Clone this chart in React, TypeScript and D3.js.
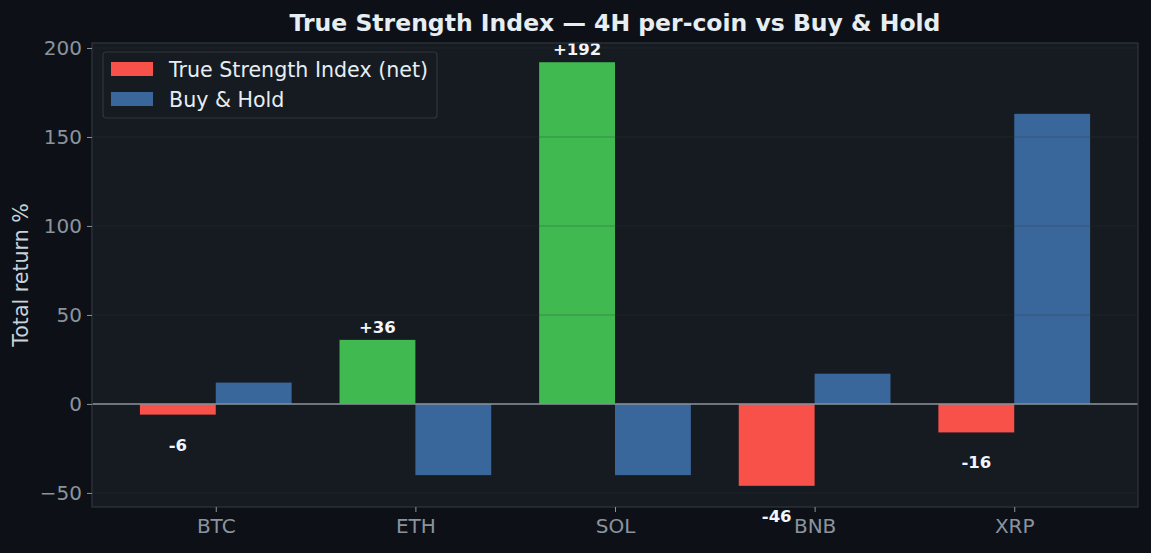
import { useEffect, useRef } from "react";
import * as d3 from "d3";

const coins = ["BTC", "ETH", "SOL", "BNB", "XRP"];
const tsiReturns = [-6, 36, 192, -46, -16];
const holdReturns = [12, -40, -40, 17, 163];
const yTicks = [-50, 0, 50, 100, 150, 200];

const W = 1151;
const H = 553;
const FONT = "DejaVu Sans, sans-serif";

export default function App() {
  const svgRef = useRef<SVGSVGElement>(null);

  useEffect(() => {
    document.body.style.margin = "0";
    document.body.style.background = "#0d1117";
    if (!svgRef.current) return;
    const svg = d3.select(svgRef.current);
    svg.selectAll("*").remove();

    const margin = { top: 43, right: 13, bottom: 46, left: 92 };
    const innerWidth = W - margin.left - margin.right;
    const innerHeight = H - margin.top - margin.bottom;

    const xScale = d3.scaleLinear().domain([-0.62, 4.62]).range([0, innerWidth]);
    const yScale = d3.scaleLinear().domain([-57.9, 202.8]).range([innerHeight, 0]);
    const barW = xScale(0.38) - xScale(0);

    svg.append("rect").attr("width", W).attr("height", H).attr("fill", "#0d1117");

    svg
      .append("text")
      .attr("x", margin.left + innerWidth / 2)
      .attr("y", 31)
      .attr("text-anchor", "middle")
      .attr("fill", "#e6edf3")
      .attr("font-family", FONT)
      .attr("font-size", 23.5)
      .attr("font-weight", "bold")
      .text("True Strength Index — 4H per-coin vs Buy & Hold");

    const g = svg.append("g").attr("transform", `translate(${margin.left},${margin.top})`);

    g.append("rect")
      .attr("width", innerWidth)
      .attr("height", innerHeight)
      .attr("fill", "#161b22");

    // Bars
    coins.forEach((c, i) => {
      const v = tsiReturns[i];
      g.append("rect")
        .attr("x", xScale(i) - barW)
        .attr("y", yScale(Math.max(0, v)))
        .attr("width", barW)
        .attr("height", Math.abs(yScale(v) - yScale(0)))
        .attr("fill", v >= 0 ? "#3fb950" : "#f85149");
      const h = holdReturns[i];
      g.append("rect")
        .attr("x", xScale(i))
        .attr("y", yScale(Math.max(0, h)))
        .attr("width", barW)
        .attr("height", Math.abs(yScale(h) - yScale(0)))
        .attr("fill", "#3a679b");
    });

    // Grid on top of bars
    yTicks.forEach((t) => {
      g.append("line")
        .attr("x1", 0)
        .attr("x2", innerWidth)
        .attr("y1", yScale(t))
        .attr("y2", yScale(t))
        .attr("stroke", "#30363d")
        .attr("stroke-opacity", 0.35)
        .attr("stroke-width", 1);
    });

    // Zero line
    g.append("line")
      .attr("x1", 0)
      .attr("x2", innerWidth)
      .attr("y1", yScale(0))
      .attr("y2", yScale(0))
      .attr("stroke", "#8b949e")
      .attr("stroke-width", 1.6);

    // Value labels
    coins.forEach((c, i) => {
      const v = tsiReturns[i];
      g.append("text")
        .attr("x", xScale(i) - barW / 2)
        .attr("y", v >= 0 ? yScale(v) - 7 : yScale(v) + 36)
        .attr("text-anchor", "middle")
        .attr("fill", "#f0f6fc")
        .attr("font-family", FONT)
        .attr("font-size", 16.5)
        .attr("font-weight", "bold")
        .text(v >= 0 ? `+${v}` : `${v}`);
    });

    // Frame
    g.append("rect")
      .attr("width", innerWidth)
      .attr("height", innerHeight)
      .attr("fill", "none")
      .attr("stroke", "#30363d")
      .attr("stroke-width", 1.2);

    // Y axis
    g.append("g")
      .call(d3.axisLeft(yScale).tickValues(yTicks).tickSize(5).tickPadding(5))
      .call((s) => s.select(".domain").remove())
      .call((s) => s.selectAll(".tick line").attr("stroke", "#8b949e"))
      .call((s) =>
        s
          .selectAll(".tick text")
          .attr("fill", "#8b949e")
          .attr("font-family", FONT)
          .attr("font-size", 20)
      );

    // X axis
    g.append("g")
      .attr("transform", `translate(0,${innerHeight})`)
      .call(
        d3
          .axisBottom(xScale)
          .tickValues(d3.range(coins.length))
          .tickFormat((d) => coins[d as number])
          .tickSize(5)
          .tickPadding(7)
      )
      .call((s) => s.select(".domain").remove())
      .call((s) => s.selectAll(".tick line").attr("stroke", "#8b949e"))
      .call((s) =>
        s
          .selectAll(".tick text")
          .attr("fill", "#8b949e")
          .attr("font-family", FONT)
          .attr("font-size", 20)
      );

    // Y label
    svg
      .append("text")
      .attr("transform", `translate(28,${margin.top + innerHeight / 2}) rotate(-90)`)
      .attr("text-anchor", "middle")
      .attr("fill", "#c9d1d9")
      .attr("font-family", FONT)
      .attr("font-size", 20.6)
      .text("Total return %");

    // Legend
    const lg = svg.append("g").attr("transform", "translate(103,52)");
    lg.append("rect")
      .attr("width", 334)
      .attr("height", 66)
      .attr("rx", 3)
      .attr("fill", "#161b22")
      .attr("stroke", "#30363d")
      .attr("stroke-width", 1.2);
    const items = [
      { label: "True Strength Index (net)", color: "#f85149" },
      { label: "Buy & Hold", color: "#3a679b" },
    ];
    items.forEach((it, i) => {
      lg.append("rect")
        .attr("x", 8)
        .attr("y", 10 + i * 30)
        .attr("width", 42)
        .attr("height", 14)
        .attr("fill", it.color);
      lg.append("text")
        .attr("x", 66)
        .attr("y", 25 + i * 30)
        .attr("fill", "#e6edf3")
        .attr("font-family", FONT)
        .attr("font-size", 20.6)
        .text(it.label);
    });
  }, []);

  return (
    <svg
      ref={svgRef}
      width={W}
      height={H}
      style={{ position: "absolute", left: 0, top: 0, display: "block" }}
    />
  );
}
